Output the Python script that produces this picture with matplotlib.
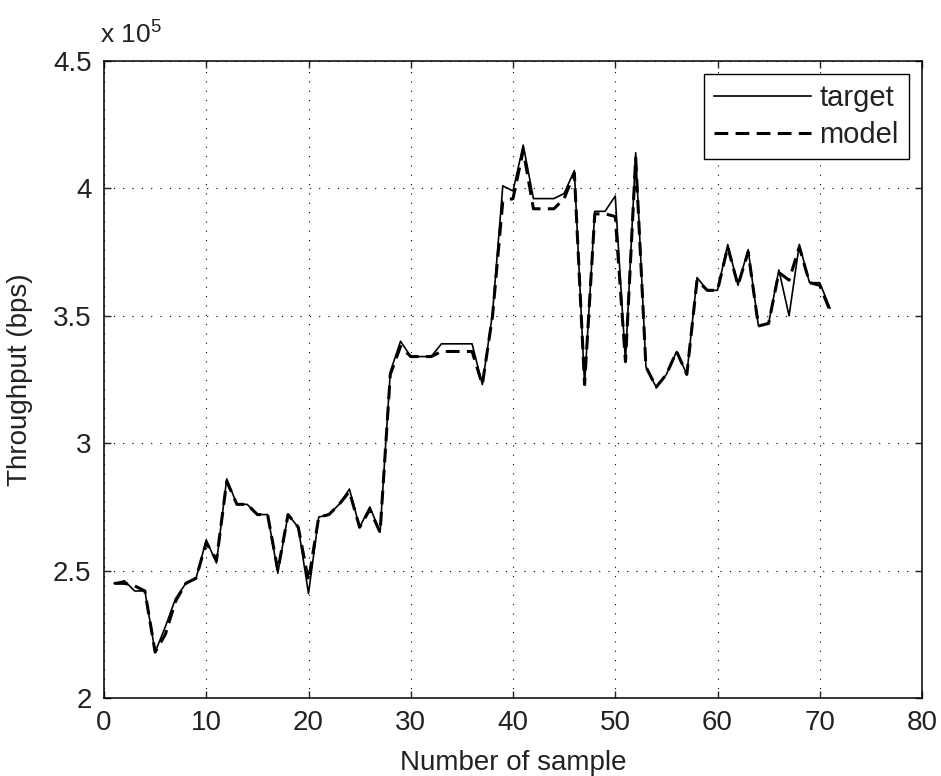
import matplotlib
matplotlib.use("Agg")
import matplotlib.pyplot as plt
import numpy as np

plt.rcParams['font.family'] = ['Liberation Sans', 'DejaVu Sans']
plt.rcParams['mathtext.fontset'] = 'custom'
plt.rcParams['mathtext.rm'] = 'Liberation Sans'
plt.rcParams['mathtext.it'] = 'Liberation Sans'

# Throughput in units of 1e5 bps
samples = list(range(1, 72))
target = [2.45, 2.46, 2.42, 2.42, 2.18, 2.28, 2.39, 2.45, 2.47, 2.62,
          2.53, 2.86, 2.76, 2.76, 2.72, 2.72, 2.49, 2.72, 2.67, 2.41,
          2.71, 2.72, 2.76, 2.82, 2.67, 2.75, 2.65, 3.28, 3.40, 3.34,
          3.34, 3.34, 3.39, 3.39, 3.39, 3.39, 3.23, 3.51, 4.01, 3.99,
          4.17, 3.96, 3.96, 3.96, 3.98, 4.07, 3.23, 3.91, 3.91, 3.97,
          3.32, 4.14, 3.30, 3.22, 3.27, 3.36, 3.27, 3.65, 3.60, 3.60,
          3.78, 3.62, 3.76, 3.46, 3.47, 3.68, 3.50, 3.78, 3.63, 3.63, 3.53]
model = [2.45, 2.45, 2.44, 2.42, 2.18, 2.25, 2.38, 2.45, 2.47, 2.61,
         2.54, 2.85, 2.76, 2.76, 2.72, 2.72, 2.50, 2.72, 2.67, 2.46,
         2.71, 2.72, 2.76, 2.81, 2.67, 2.74, 2.65, 3.27, 3.38, 3.34,
         3.34, 3.34, 3.36, 3.36, 3.36, 3.36, 3.23, 3.50, 3.95, 3.96,
         4.15, 3.92, 3.92, 3.92, 3.96, 4.06, 3.23, 3.90, 3.90, 3.89,
         3.32, 4.12, 3.30, 3.22, 3.27, 3.36, 3.27, 3.64, 3.60, 3.60,
         3.77, 3.62, 3.75, 3.46, 3.47, 3.67, 3.64, 3.77, 3.63, 3.62, 3.52]

xticks = [0, 10, 20, 30, 40, 50, 60, 70, 80]
yticks = [2, 2.5, 3, 3.5, 4, 4.5]
ytick_labels = ['2', '2.5', '3', '3.5', '4', '4.5']

fig = plt.figure(figsize=(9.41, 7.76), dpi=100)
ax = fig.add_axes([104/941, 1-698/776, (922-104)/941, (698-61)/776])

ax.plot(samples, target, color='black', linewidth=1.2, label='target')
ax.plot(samples, model, color='black', linewidth=2.2, linestyle=(0, (4.5, 2.4)), label='model')

ax.set_xlim(0, 80)
ax.set_ylim(2, 4.5)
ax.set_xticks(xticks)
ax.set_yticks(yticks)
ax.set_yticklabels(ytick_labels)
ax.tick_params(direction='in', length=5, width=1, top=True, right=True,
               labelsize=20, pad=9, colors='#222222')
ax.grid(True, color='black', linestyle=(0, (1, 7.4)), linewidth=0.8)
for s in ax.spines.values():
    s.set_linewidth(1.1)
    s.set_color('black')

ax.set_xlabel('Number of sample', fontsize=20, labelpad=10, color='#222222')
ax.set_ylabel('Throughput (bps)', fontsize=20, labelpad=14, color='#222222')

fig.text(100/941, 1-44/776, r'x 10$^{5}$', fontsize=19, ha='left', va='baseline',
         color='#222222')

leg = ax.legend(loc='upper right', fontsize=21, handlelength=3.3, handletextpad=0.3,
                borderpad=0.35, labelspacing=0.3, fancybox=False, framealpha=1,
                edgecolor='black', borderaxespad=0.45)
leg.get_frame().set_linewidth(1.0)
for t in leg.get_texts():
    t.set_color('#222222')

fig.savefig('out.png', dpi=100)
